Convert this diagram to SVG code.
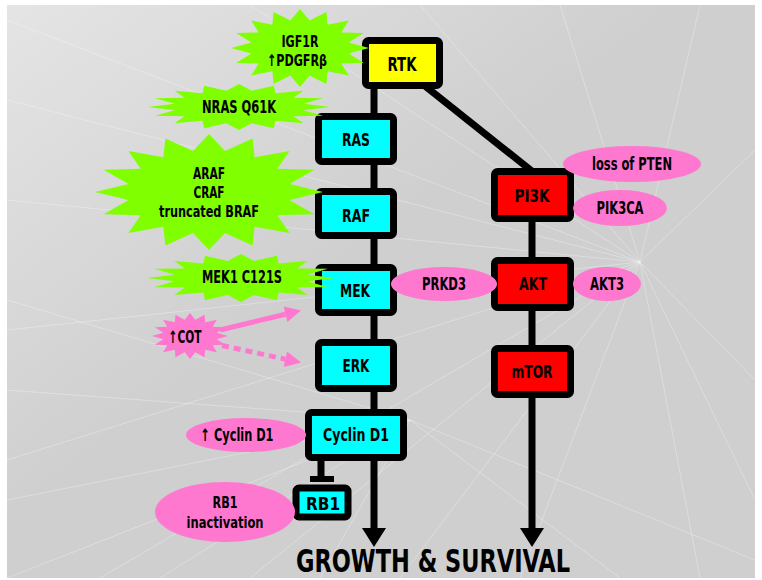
<svg xmlns="http://www.w3.org/2000/svg" xmlns:xlink="http://www.w3.org/1999/xlink" width="762" height="580" viewBox="0 0 762 580">
<style>
.t{font-family:'Liberation Sans Narrow','DejaVu Sans Condensed','Liberation Sans',sans-serif;font-weight:bold;font-size:17px;text-anchor:middle;fill:#000}
.m{font-size:16px}
.box{stroke:#000;stroke-width:7;stroke-linejoin:round}
.cy{fill:#00ffff}
.rd{fill:#ff0000}
.yl{fill:#ffff00}
.pk{fill:#ff78d0}
.gr{fill:#7fff00}
.ln{stroke:#000;stroke-width:7;fill:none}
.pl{stroke:#ff78d0;stroke-width:5;fill:none}
.bg line{stroke:#fff;stroke-width:1;opacity:0.3}
</style>
<defs>
<polygon id="star" points="1,0 0.706,0.14 0.924,0.383 0.599,0.4 0.707,0.707 0.4,0.599 0.383,0.924 0.14,0.706 0,1 -0.14,0.706 -0.383,0.924 -0.4,0.599 -0.707,0.707 -0.599,0.4 -0.924,0.383 -0.706,0.14 -1,0 -0.706,-0.14 -0.924,-0.383 -0.599,-0.4 -0.707,-0.707 -0.4,-0.599 -0.383,-0.924 -0.14,-0.706 0,-1 0.14,-0.706 0.383,-0.924 0.4,-0.599 0.707,-0.707 0.599,-0.4 0.924,-0.383 0.706,-0.14"/>
<linearGradient id="tl" x1="0" y1="0" x2="1" y2="1">
<stop offset="0" stop-color="#ffffff" stop-opacity="0.45"/>
<stop offset="0.45" stop-color="#ffffff" stop-opacity="0"/>
</linearGradient>
<marker id="ph" viewBox="0 0 10 10" refX="0" refY="5" markerWidth="18" markerHeight="16" markerUnits="userSpaceOnUse" orient="auto">
<path d="M0,0 L10,5 L0,10 z" fill="#ff78d0"/>
</marker>
</defs>
<rect x="0" y="0" width="762" height="580" fill="#ffffff"/>
<g class="bg">
<rect x="7" y="5" width="748" height="573" fill="#cfcfcf"/>
<rect x="7" y="5" width="748" height="573" fill="url(#tl)"/>
<line x1="640" y1="262" x2="7" y2="100"/>
<line x1="640" y1="262" x2="7" y2="200"/>
<line x1="640" y1="262" x2="7" y2="330"/>
<line x1="640" y1="262" x2="7" y2="460"/>
<line x1="640" y1="262" x2="100" y2="578"/>
<line x1="640" y1="262" x2="250" y2="578"/>
<line x1="640" y1="262" x2="400" y2="578"/>
<line x1="640" y1="262" x2="520" y2="578"/>
<line x1="640" y1="262" x2="700" y2="578"/>
<line x1="640" y1="262" x2="755" y2="500"/>
<line x1="640" y1="262" x2="755" y2="380"/>
<line x1="640" y1="262" x2="755" y2="150"/>
<line x1="640" y1="262" x2="700" y2="5"/>
<line x1="640" y1="262" x2="560" y2="5"/>
<line x1="640" y1="262" x2="420" y2="5"/>
<line x1="640" y1="262" x2="250" y2="5"/>
<line x1="640" y1="262" x2="7" y2="20"/>
<line x1="410" y1="420" x2="7" y2="300"/>
<line x1="410" y1="420" x2="7" y2="390"/>
<line x1="410" y1="420" x2="7" y2="500"/>
<line x1="410" y1="420" x2="7" y2="578"/>
<line x1="410" y1="420" x2="160" y2="578"/>
<line x1="410" y1="420" x2="320" y2="578"/>
<line x1="410" y1="420" x2="620" y2="578"/>
<line x1="410" y1="420" x2="755" y2="560"/>
</g>
<g id="connectors">
<line class="ln" x1="374" y1="86" x2="374" y2="530"/>
<polygon points="362,528 386,528 374,547" fill="#000"/>
<line class="ln" x1="532" y1="218" x2="532" y2="530"/>
<polygon points="520,528 544,528 532,547" fill="#000"/>
<line class="ln" x1="425" y1="86" x2="533" y2="172"/>
<line class="ln" x1="321" y1="460" x2="321" y2="478"/>
<line x1="310" y1="479" x2="334" y2="479" stroke="#000" stroke-width="6"/>
<line class="pl" x1="220" y1="330" x2="285.5" y2="314.2" marker-end="url(#ph)"/>
<line class="pl" x1="222" y1="345.5" x2="285.4" y2="359.2" stroke-width="6" stroke-dasharray="7,5" marker-end="url(#ph)"/>
</g>
<g id="RTK"><rect class="box yl" x="365.5" y="40.5" width="74" height="45" rx="3"/><text class="t" x="402" y="71" style="font-size:20px" textLength="29" lengthAdjust="spacingAndGlyphs">RTK</text></g>
<g id="RAS"><rect class="box cy" x="318.5" y="116.5" width="75" height="45" rx="3"/><text class="t" x="356" y="146" textLength="28" lengthAdjust="spacingAndGlyphs">RAS</text></g>
<g id="RAF"><rect class="box cy" x="318.5" y="191.5" width="75" height="44" rx="3"/><text class="t" x="356" y="222" textLength="28" lengthAdjust="spacingAndGlyphs">RAF</text></g>
<g id="MEK"><rect class="box cy" x="318.5" y="267.5" width="75" height="45" rx="3"/><text class="t" x="355" y="297" textLength="30" lengthAdjust="spacingAndGlyphs">MEK</text></g>
<g id="ERK"><rect class="box cy" x="318.5" y="342.5" width="75" height="46" rx="3"/><text class="t" x="356" y="372" textLength="27" lengthAdjust="spacingAndGlyphs">ERK</text></g>
<g id="CyclinD1"><rect class="box cy" x="308.5" y="412.5" width="95" height="45" rx="3"/><text class="t" x="356" y="441" textLength="66" lengthAdjust="spacingAndGlyphs">Cyclin D1</text></g>
<g id="RB1"><rect class="box cy" x="296" y="488" width="52" height="29" rx="3" stroke-width="6"/><text class="t" x="323" y="510" textLength="34" lengthAdjust="spacingAndGlyphs">RB1</text></g>
<g id="PI3K"><rect class="box rd" x="494.5" y="171.5" width="76" height="47" rx="3"/><text class="t" x="532" y="202" textLength="35" lengthAdjust="spacingAndGlyphs">PI3K</text></g>
<g id="AKT"><rect class="box rd" x="494.5" y="260.5" width="76" height="47" rx="3"/><text class="t" x="533" y="290" textLength="28" lengthAdjust="spacingAndGlyphs">AKT</text></g>
<g id="mTOR"><rect class="box rd" x="494.5" y="348.5" width="76" height="46" rx="3"/><text class="t" x="532" y="378" textLength="41" lengthAdjust="spacingAndGlyphs">mTOR</text></g>
<g id="IGF1R_PDGFRB"><use href="#star" xlink:href="#star" class="gr" transform="translate(300,48) scale(69,39)"/><text class="t m" x="300" y="47" textLength="37" lengthAdjust="spacingAndGlyphs">IGF1R</text><text class="t m" x="297" y="66" textLength="60" lengthAdjust="spacingAndGlyphs">↑PDGFRβ</text></g>
<g id="NRAS_Q61K"><use href="#star" xlink:href="#star" class="gr" transform="translate(239,107) scale(91,23)"/><text class="t" x="239" y="113" textLength="74" lengthAdjust="spacingAndGlyphs">NRAS Q61K</text></g>
<g id="ARAF_CRAF"><use href="#star" xlink:href="#star" class="gr" transform="translate(209,192) scale(114,58)"/><text class="t m" x="209" y="179" textLength="32" lengthAdjust="spacingAndGlyphs">ARAF</text><text class="t m" x="209" y="198" textLength="31" lengthAdjust="spacingAndGlyphs">CRAF</text><text class="t m" x="209" y="217" textLength="100" lengthAdjust="spacingAndGlyphs">truncated BRAF</text></g>
<g id="MEK1_C121S"><use href="#star" xlink:href="#star" class="gr" transform="translate(241,278) scale(94,24)"/><text class="t" x="242" y="283" textLength="80" lengthAdjust="spacingAndGlyphs">MEK1 C121S</text></g>
<g id="COT"><use href="#star" xlink:href="#star" class="pk" transform="translate(190,336) scale(38,23)"/><text class="t" x="185" y="343" textLength="33" lengthAdjust="spacingAndGlyphs">↑COT</text></g>
<g id="lossPTEN"><ellipse class="pk" cx="632" cy="164" rx="69" ry="18"/><text class="t" x="632" y="170" textLength="80" lengthAdjust="spacingAndGlyphs">loss of PTEN</text></g>
<g id="PIK3CA"><ellipse class="pk" cx="620" cy="208" rx="47" ry="18"/><text class="t" x="620" y="214" textLength="47" lengthAdjust="spacingAndGlyphs">PIK3CA</text></g>
<g id="PRKD3"><ellipse class="pk" cx="444" cy="284" rx="53" ry="17"/><text class="t" x="444" y="290" textLength="44" lengthAdjust="spacingAndGlyphs">PRKD3</text></g>
<g id="AKT3"><ellipse class="pk" cx="607" cy="284" rx="34" ry="17"/><text class="t" x="607" y="290" textLength="34" lengthAdjust="spacingAndGlyphs">AKT3</text></g>
<g id="upCyclinD1"><ellipse class="pk" cx="246" cy="435" rx="60" ry="17"/><text class="t" x="237" y="441" textLength="73" lengthAdjust="spacingAndGlyphs">↑ Cyclin D1</text></g>
<g id="RB1inact"><ellipse class="pk" cx="225" cy="512" rx="70" ry="30"/><text class="t m" x="225" y="508" textLength="25" lengthAdjust="spacingAndGlyphs">RB1</text><text class="t m" x="225" y="528" textLength="77" lengthAdjust="spacingAndGlyphs">inactivation</text></g>
<g id="title"><text class="t" x="433" y="572" style="font-size:32px" textLength="274" lengthAdjust="spacingAndGlyphs">GROWTH &amp; SURVIVAL</text></g>
</svg>
